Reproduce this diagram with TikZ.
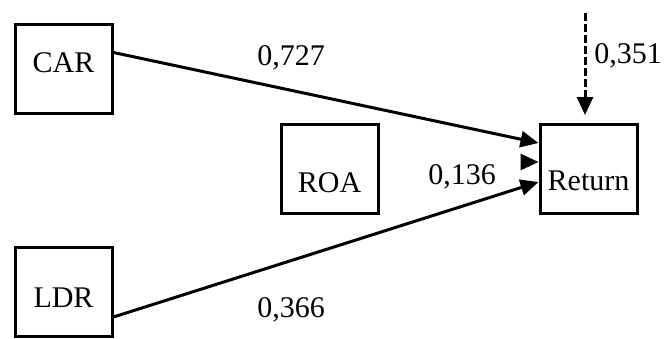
\documentclass[tikz,border=0pt]{standalone}
\usepackage{fontspec}
\setmainfont{Liberation Serif}
\usetikzlibrary{arrows.meta,positioning,calc}
\definecolor{pathInk}{RGB}{0,0,0}

\begin{document}
\begin{tikzpicture}[x=0.5pt,y=-0.5pt,
  varbox/.style={draw=pathInk,line width=1.5pt,minimum width=48.5pt,minimum height=44.5pt,inner sep=0pt,font=\fontsize{15}{18}\selectfont},
  coef/.style={font=\fontsize{15}{18}\selectfont,inner sep=0pt},
  path/.style={pathInk,line width=1.5pt,-{Triangle[length=9pt,width=8pt]}}]
  \useasboundingbox (0,0) rectangle (665,338);
  % variables
  \node[varbox,text height=10pt,text depth=6pt] (car) at (63.5,68.5) {CAR};
  \node[varbox,text height=23pt,text depth=0pt] (roa) at (329.5,169) {ROA};
  \node[varbox,text height=21pt,text depth=0pt] (ret) at (588.5,169) {Return};
  \node[varbox,text height=15pt,text depth=0pt] (ldr) at (63.5,292) {LDR};
  % paths
  \coordinate (tipin) at (521,162);
  \coordinate (err) at (585,13);
  \draw[path] ([yshift=8pt]car.east) -- ([yshift=13pt]ret.west);
  \draw[path] (tipin) -- ([yshift=3.5pt]ret.west);
  \draw[path] ([yshift=-12.5pt]ldr.east) -- ([yshift=-6.5pt]ret.west);
  \draw[path,dash pattern=on 4pt off 1.5pt] (err) -- ($(ret.north)+(-3.5,-8)$);
  % coefficients
  \node[coef] (c1) at (291,58) {0,727};
  \node[coef] (c2) at (462,177) {0,136};
  \node[coef] (c3) at (291,310) {0,366};
  \node[coef] (c4) at (628,56) {0,351};
\end{tikzpicture}
\end{document}
